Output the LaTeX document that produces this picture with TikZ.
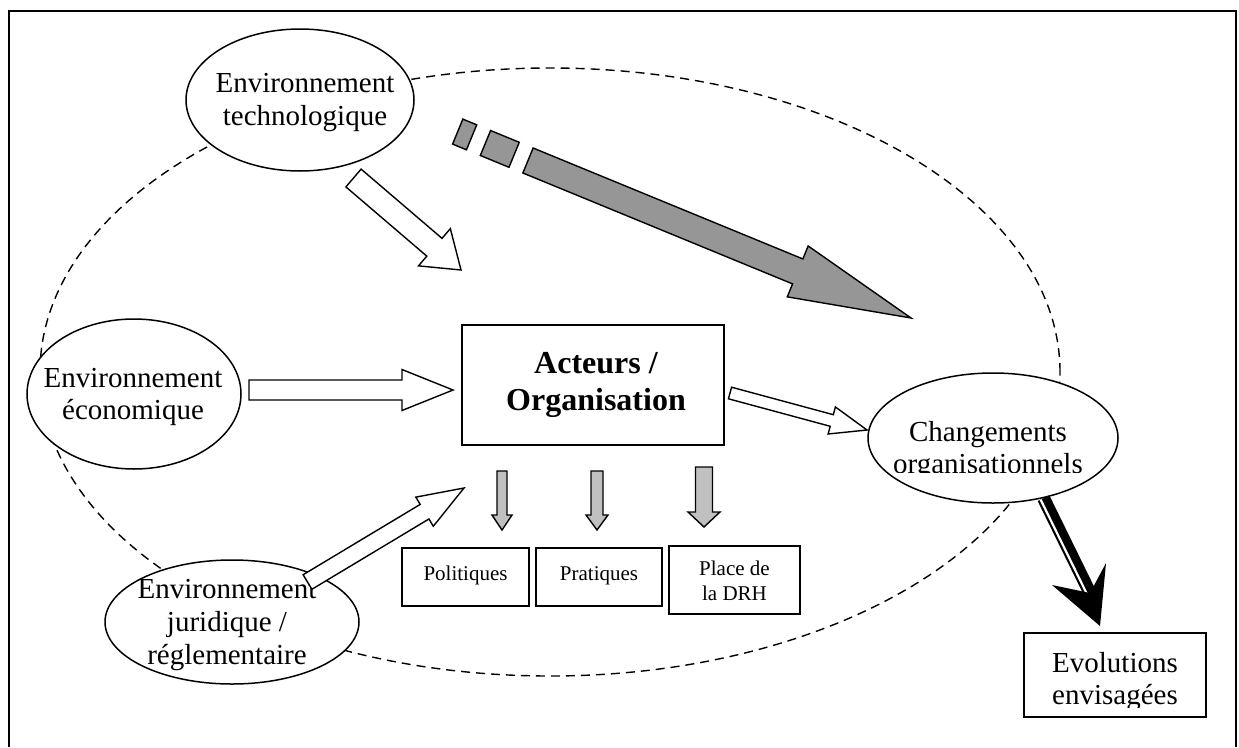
\documentclass[tikz,border=0pt]{standalone}
\usepackage{fontspec}
\setmainfont{Liberation Serif}
\usetikzlibrary{calc,shapes.geometric}
\definecolor{gdark}{RGB}{150,150,150}
\definecolor{glight}{RGB}{192,192,192}
\tikzset{
  ell/.style={ellipse, draw, line width=1.5pt, fill=white, inner sep=0pt},
  boxnode/.style={rectangle, draw, line width=1.5pt, fill=white, inner sep=0pt},
  bigtxt/.style={font=\fontsize{29}{33}\selectfont, inner sep=0pt, anchor=base},
  boldtxt/.style={font=\fontsize{32}{37}\selectfont\bfseries, inner sep=0pt, anchor=base},
  smalltxt/.style={font=\fontsize{21}{25}\selectfont, inner sep=0pt, anchor=base},
  blockw/.style={draw, line width=1.4pt, fill=white, line join=miter},
  blockg/.style={draw, line width=1.4pt, fill=gdark, line join=miter},
  blockl/.style={draw, line width=1.4pt, fill=glight, line join=miter},
  orbit/.style={draw, line width=1.4pt, dash pattern=on 9pt off 6pt},
}
% #1 style, #2 start, #3 tip, #4 half shaft, #5 half head, #6 head length
\newcommand\blockarrow[6]{%
  \coordinate (bah) at ($(#3)!#6!(#2)$);
  \path[#1] ($(#2)!#4!90:(#3)$) -- ($(bah)!#4!90:(#3)$) -- ($(bah)!#5!90:(#3)$)
    -- (#3) -- ($(bah)!#5!-90:(#3)$) -- ($(bah)!#4!-90:(#3)$) -- ($(#2)!#4!-90:(#3)$) -- cycle;}
% #1 style, #2 back, #3 front, #4 half width
\newcommand\stripebar[4]{%
  \path[#1] ($(#2)!#4!90:(#3)$) -- ($(#3)!#4!-90:(#2)$) -- ($(#3)!#4!90:(#2)$) -- ($(#2)!#4!-90:(#3)$) -- cycle;}
\begin{document}
\begin{tikzpicture}[x=1pt,y=-1pt]
\useasboundingbox (0,0) rectangle (1239,747);
\fill[white] (0,0) rectangle (1239,747);
% frame
\draw[line width=2pt] (9,747) -- (9,11) -- (1236,11) -- (1236,747);
% dashed orbit
\path[orbit] (550,372) ellipse [x radius=510pt, y radius=304pt];

% ellipses
\node[ell, minimum width=228pt, minimum height=142pt] (tech) at (300,100) {};
\node[ell, minimum width=214pt, minimum height=150pt] (eco) at (134,394) {};
\node[ell, minimum width=254pt, minimum height=124pt] (jur) at (232,622) {};
\node[ell, minimum width=250pt, minimum height=130pt] (ch) at (993,438) {};

% boxes
\node[boxnode, minimum width=262pt, minimum height=120pt] (act) at (593,385) {};
\node[boxnode, minimum width=127pt, minimum height=58pt] (pol) at (465.5,577) {};
\node[boxnode, minimum width=126pt, minimum height=58pt] (pra) at (599,577) {};
\node[boxnode, minimum width=131pt, minimum height=68pt] (drh) at (734.5,580) {};
\node[boxnode, minimum width=182pt, minimum height=84pt] (evo) at (1115,675) {};

% texts
\node[bigtxt] (tech1) at (305,92) {Environnement};
\node[bigtxt] (tech2) at (305,125) {technologique};
\node[bigtxt] (eco1) at (133,387) {Environnement};
\node[bigtxt] (eco2) at (133,419) {économique};
\node[bigtxt] (jur1) at (227,598) {Environnement};
\node[bigtxt] (jur2) at (227,631) {juridique /};
\node[bigtxt] (jur3) at (227,664) {réglementaire};
\node[boldtxt] (act1) at (596,373) {Acteurs /};
\node[boldtxt] (act2) at (596,410) {Organisation};
\node[smalltxt] (pol1) at (465.5,580) {Politiques};
\node[smalltxt] (pra1) at (599,580) {Pratiques};
\node[smalltxt] (drh1) at (734.5,575) {Place de};
\node[smalltxt] (drh2) at (734.5,600) {la DRH};
\begin{scope}
  \clip (870,400) rectangle (1115,472);
  \node[bigtxt] (ch1) at (988,441) {Changements};
  \node[bigtxt] (ch2) at (988,473) {organisationnels};
\end{scope}
\begin{scope}
  \clip (1026,640) rectangle (1204,707);
  \node[bigtxt] (evo1) at (1115,672) {Evolutions};
  \node[bigtxt] (evo2) at (1115,704) {envisagées};
\end{scope}

% block arrows
\coordinate (ecoA) at (249,390);   \coordinate (ecoB) at (453,390);
\blockarrow{blockw}{ecoA}{ecoB}{10pt}{20.5pt}{51pt}
\coordinate (techA) at (353.5,178); \coordinate (techB) at (461,270);
\blockarrow{blockw}{techA}{techB}{11.7pt}{24.5pt}{35pt}
\coordinate (jurA) at (307.5,582); \coordinate (jurB) at (464,488);
\blockarrow{blockw}{jurA}{jurB}{8.5pt}{17pt}{46pt}
\coordinate (actA) at (730,393); \coordinate (actB) at (867,430);
\blockarrow{blockw}{actA}{actB}{6pt}{14pt}{36.5pt}

% striped gray arrow
\coordinate (gt) at (528,160.5); \coordinate (gh) at (911,318);
\blockarrow{blockg}{gt}{gh}{13.5pt}{27.5pt}{122.5pt}
\coordinate (s2f) at ($(gt)!-15pt!(gh)$);
\coordinate (s2b) at ($(gt)!-46pt!(gh)$);
\coordinate (s1f) at ($(gt)!-61pt!(gh)$);
\coordinate (s1b) at ($(gt)!-76pt!(gh)$);
\stripebar{blockg}{s2b}{s2f}{13.5pt}
\stripebar{blockg}{s1b}{s1f}{13.5pt}

% small gray down arrows
\coordinate (d1a) at (502,471); \coordinate (d1b) at (502,530);
\blockarrow{blockl}{d1a}{d1b}{5pt}{10pt}{15pt}
\coordinate (d2a) at (597,471); \coordinate (d2b) at (597,530);
\blockarrow{blockl}{d2a}{d2b}{6pt}{11pt}{15pt}
\coordinate (d3a) at (704,467); \coordinate (d3b) at (704,527);
\blockarrow{blockl}{d3a}{d3b}{8.5pt}{16pt}{15pt}

% compound arrow changements -> evolutions
\coordinate (dn) at (1090,593);
\draw[line width=13pt] (ch.-50) -- (dn);
\draw[white, line width=2.2pt] ($(ch.-50)+(-2.9,1.4)$) -- ($(dn)+(-2.9,1.4)$);
\fill (1052,585) -- (dn) -- (1106,563) -- (1100,626) -- cycle;
\end{tikzpicture}
\end{document}
